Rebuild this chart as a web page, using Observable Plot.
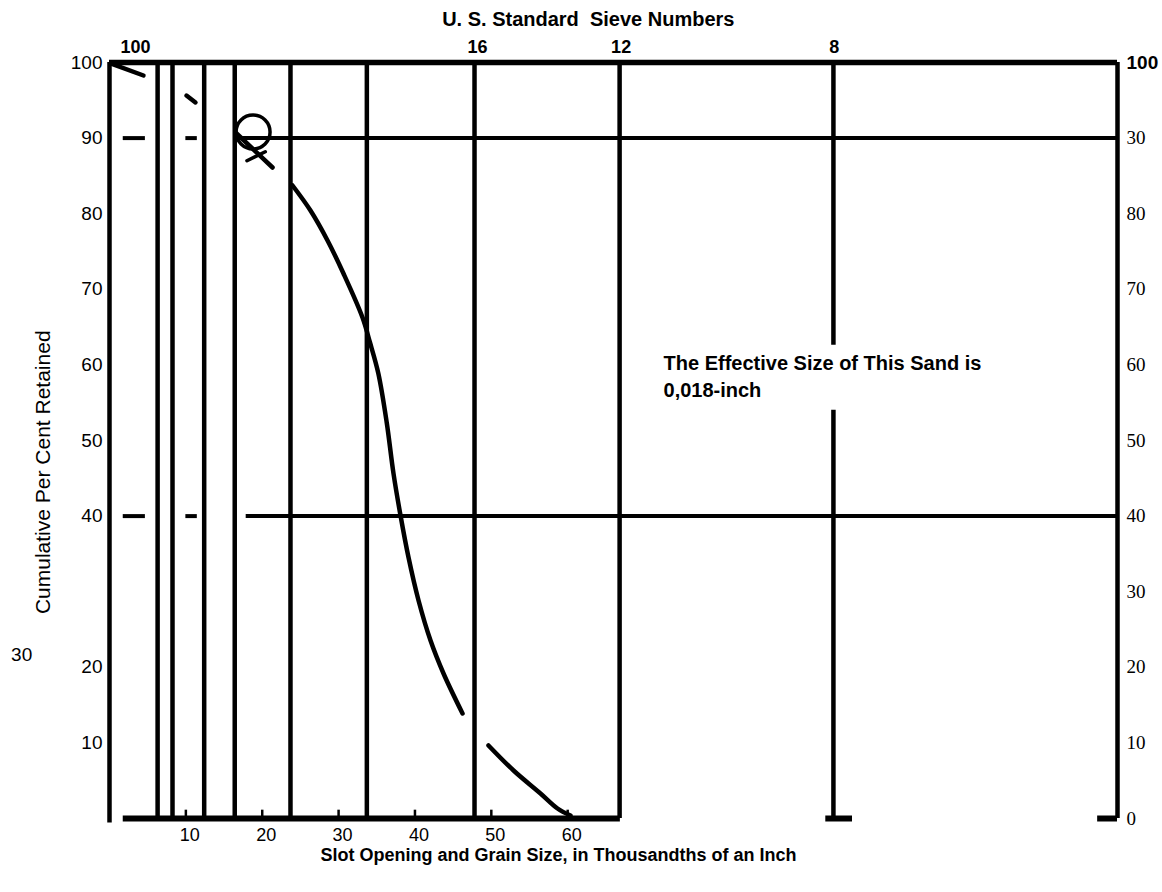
<!DOCTYPE html>
<html><head><meta charset="utf-8">
<script src="https://cdn.jsdelivr.net/npm/d3@7"></script>
<script src="https://cdn.jsdelivr.net/npm/@observablehq/plot@0.6"></script>
<style>body{margin:0;background:#fff;} svg{display:block;}</style>
</head><body><div id="chart"></div>
<script>
// x = slot opening / grain size (thousandths of an inch), y = cumulative per cent retained

// sieve ruling (vertical lines)
const sieveX  = [0, 6.3, 8.25, 12.4, 16.4, 23.7, 33.7, 47.8, 66.8, 94.8, 94.8, 132];
const sieveY1 = [-0.6, 0, 0, 0, 0, 0, 0, 0, 0, 62.6, 0, 0];
const sieveY2 = [100, 100, 100, 100, 100, 100, 100, 100, 100, 100, 54, 100];

// horizontal ruling
const hY  = [100, 90, 90, 90, 40, 40, 40, 0, 0, 0];
const hX1 = [0, 1.8, 10.0, 16.8, 1.8, 10.0, 17.9, 1.8, 93.8, 129.4];
const hX2 = [132, 4.7, 11.5, 132, 4.7, 11.5, 132, 66.9, 97.3, 132];

// grading curve (segments as drawn)
const curveSeg = [1,1, 2,2, 3,3, 4,4,4,4,4,4,4,4,4,4,4,4,4,4,4, 5,5,5,5,5];
const curveX = [0.13, 4.45, 10.08, 11.26, 16.5, 21.35,
  23.97, 26.32, 28.55, 30.64, 33.13, 34.1, 35.2, 36.3, 37.19, 38.11, 39.16, 40.47, 42.04, 43.74, 46.23,
  49.63, 52.91, 56.44, 58.67, 60.37];
const curveY = [99.87, 98.28, 95.63, 94.71, 90.74, 86.11,
  83.73, 80.42, 76.46, 72.09, 66.27, 63.0, 58.9, 52.4, 45.63, 40.08, 34.52, 28.84, 23.54, 19.18, 13.89,
  9.66, 6.35, 3.31, 1.32, 0.40];

// effective-size mark
const markX = [18.8];
const markY = [90.8];
const crossX = [18.0, 20.4];
const crossY = [87.0, 88.2];

// axes
const xTicks = [10, 20, 30, 40, 50, 60];
const leftTicks = [10, 20, 40, 50, 60, 70, 80, 90, 100];
const rightTicks = [0, 10, 20, 30, 40, 50, 60, 70, 80, 90];
const rightLabels = ["0", "10", "20", "30", "40", "50", "60", "70", "80", "30"];
const topLabels = ["100", "16", "12", "8"];
const topLabelX = [3.4, 48.2, 67.0, 94.9];

const sieves = sieveX.map((x, i) => ({x, y1: sieveY1[i], y2: sieveY2[i]}));
const hlines = hY.map((y, i) => ({y, x1: hX1[i], x2: hX2[i]}));
const curve = curveX.map((x, i) => ({x, y: curveY[i], s: curveSeg[i]}));
const cross = crossX.map((x, i) => ({x, y: crossY[i]}));
const tops = topLabels.map((t, i) => ({t, x: topLabelX[i]}));

const chart = Plot.plot({
  width: 1162,
  height: 892,
  marginLeft: 109,
  marginRight: 45,
  marginTop: 62,
  marginBottom: 74,
  style: {fontFamily: "Arial, 'Liberation Sans', sans-serif", background: "#fff", color: "#000"},
  x: {domain: [0, 132]},
  y: {domain: [0, 100]},
  marks: [
    // ruling
    Plot.ruleX(sieves, {x: "x", y1: "y1", y2: "y2", stroke: "#000", strokeWidth: 4.5}),
    Plot.ruleY(hlines.filter(d => d.y === 100), {y: "y", x1: "x1", x2: "x2", stroke: "#000", strokeWidth: 5.5}),
    Plot.ruleY(hlines.filter(d => d.y === 90 || d.y === 40), {y: "y", x1: "x1", x2: "x2", stroke: "#000", strokeWidth: 4}),
    Plot.ruleY(hlines.filter(d => d.y === 0), {y: "y", x1: "x1", x2: "x2", stroke: "#000", strokeWidth: 6}),
    Plot.ruleX(xTicks, {x: d => d, y1: 0, y2: 1.1, stroke: "#000", strokeWidth: 2.5}),
    // curve
    Plot.line(curve, {x: "x", y: "y", z: "s", stroke: "#000", strokeWidth: 4.5, curve: "catmull-rom"}),
    Plot.dot(markX.map((x, i) => ({x, y: markY[i]})), {x: "x", y: "y", r: 17, stroke: "#000", strokeWidth: 3.5, fill: "none"}),
    Plot.line(cross, {x: "x", y: "y", stroke: "#000", strokeWidth: 3.5}),
    // axes
    Plot.axisY(leftTicks, {anchor: "left", tickSize: 0, tickPadding: 7, fontSize: 19, label: null}),
    Plot.axisY(rightTicks, {anchor: "right", tickSize: 0, tickPadding: 9, fontSize: 19, label: null,
      fontFamily: "'Liberation Serif', 'Times New Roman', serif", tickFormat: (d, i) => rightLabels[i]}),
    Plot.text(["100"], {x: 132, y: 100, dx: 9, textAnchor: "start", fontSize: 19, fontWeight: "bold"}),
    Plot.axisX(xTicks, {anchor: "bottom", tickSize: 0, tickPadding: 10, dx: 4, fontSize: 18, label: null}),
    Plot.text(tops, {x: "x", text: "t", frameAnchor: "top", dy: -22, fontSize: 18, fontWeight: "bold"}),
    // titles
    Plot.text(["U. S. Standard  Sieve Numbers"], {x: 62.7, frameAnchor: "top", dy: -51, fontSize: 20, fontWeight: "bold"}),
    Plot.text(["Slot Opening and Grain Size, in Thousandths of an Inch"], {x: 58.8, frameAnchor: "bottom", dy: 42, fontSize: 18, fontWeight: "bold"}),
    Plot.text(["Cumulative Per Cent Retained"], {y: 45.8, frameAnchor: "left", dx: -66, rotate: -90, textAnchor: "middle", fontSize: 21}),
    Plot.text(["30"], {x: -11.5, y: 21.6, fontSize: 19}),
    Plot.text(["The Effective Size of This Sand is\n0,018-inch"], {x: 72.55, y: 61.9, textAnchor: "start", lineAnchor: "top", lineHeight: 1.35, fontSize: 20, fontWeight: "bold"})
  ]
});
document.getElementById("chart").appendChild(chart);
</script>
</body></html>
